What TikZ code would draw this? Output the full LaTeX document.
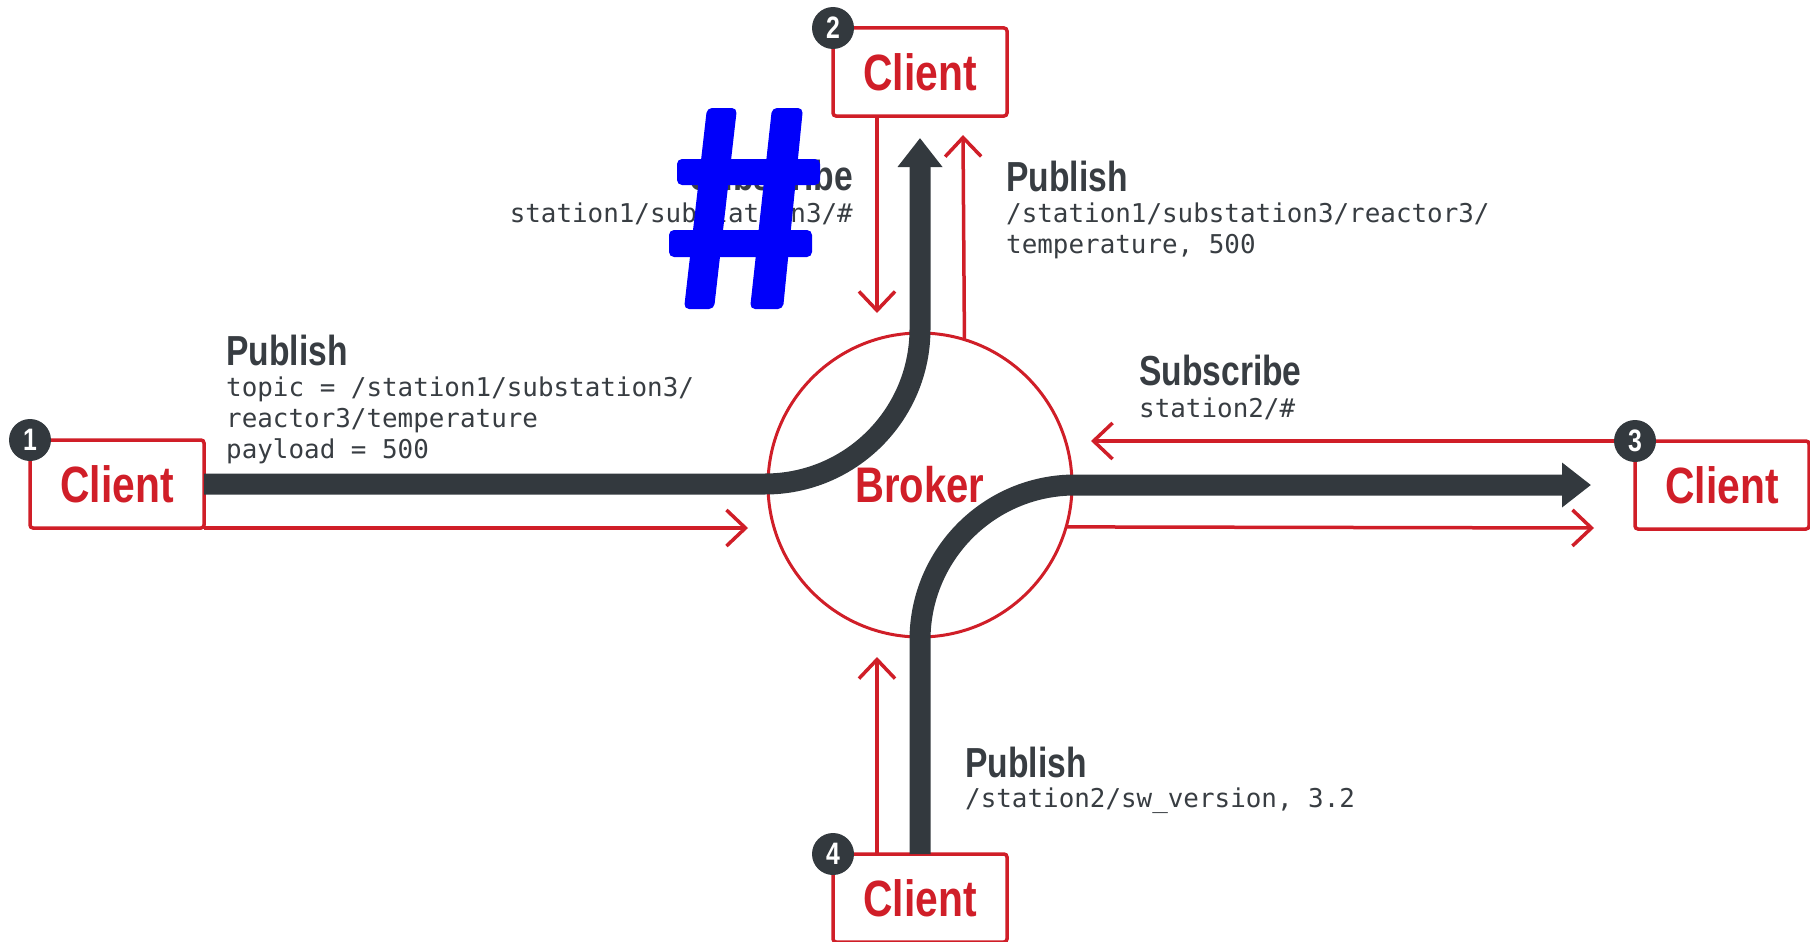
\documentclass[tikz,border=0pt]{standalone}
\usepackage{fontspec}
\setmainfont{Liberation Sans}
\newfontfamily\condf{Liberation Sans}[FakeStretch=0.8]
\newfontfamily\monof{DejaVu Sans Mono}
\usetikzlibrary{arrows.meta,calc}
\definecolor{mred}{RGB}{208,30,40}
\definecolor{mdark}{RGB}{51,57,62}
\definecolor{mtext}{RGB}{56,61,66}
\definecolor{mblue}{RGB}{0,0,250}
\begin{document}
\begin{tikzpicture}[x=1pt,y=-1pt,
  client/.style={draw=mred, line width=3.5pt, rounded corners=3pt, outer sep=0pt,
    minimum width=174pt, minimum height=88pt, inner sep=0pt,
    font=\condf\bfseries\fontsize{51}{51}\selectfont, text=mred},
  badge/.style={circle, fill=mdark, minimum size=42pt, inner sep=0pt, text=white,
    font=\condf\bfseries\fontsize{31}{31}\selectfont},
  redarrow/.style={draw=mred, line width=3.5pt, -{Straight Barb[length=19pt,width=36pt]}},
  flow/.style={draw=mdark, line width=21pt, rounded corners=155pt,
    -{Triangle[length=29pt,width=43pt]}},
  head/.style={font=\condf\bfseries\fontsize{42}{42}\selectfont, text=mtext, inner sep=0pt},
  mono/.style={font=\monof\fontsize{25.9}{31}\selectfont, text=mtext, inner sep=0pt},
]
\useasboundingbox (0,0) rectangle (1810,942);

% clients and broker
\node[client] (c1) at (117,484) {Client};
\node[client] (c2) at (920,72) {Client};
\node[client] (c3) at (1722,485) {Client};
\node[client] (c4) at (920,898) {Client};
\node[circle, draw=mred, line width=3pt, minimum size=304pt, inner sep=0pt, outer sep=0pt] (broker) at (920,485) {};

% free ends of connectors
\coordinate (t1) at (748,528);
\coordinate (t2a) at (877,313);
\coordinate (t2b) at (963,135);
\coordinate (t3a) at (1091,441);
\coordinate (t3b) at (1594,528);
\coordinate (t4) at (877,657);
\coordinate (h2) at (920,138);
\coordinate (h3) at (1591,485);

% thin red arrows
\draw[redarrow] (c1.south east) -- (t1);
\draw[redarrow] ($(c2.south)+(-43,0)$) -- (t2a);
\draw[redarrow] (broker.73.6) -- (t2b);
\draw[redarrow] (c3.north west) -- (t3a);
\draw[redarrow] (broker.-16.4) -- (t3b);
\draw[redarrow] ($(c4.north)+(-43,0)$) -- (t4);

% thick message flows
\draw[flow] (c1.east) -| (h2);
\draw[flow] (c4.north) |- (h3);

% broker label on top
\node[text=mred, font=\condf\bfseries\fontsize{50}{50}\selectfont] (blabel) at (broker.center) {Broker};

% badges
\node[badge] (b1) at (c1.north west) {1};
\node[badge] (b2) at (c2.north west) {2};
\node[badge] (b3) at (c3.north west) {3};
\node[badge] (b4) at (c4.north west) {4};

% labels
\node[head, anchor=base west] (p1) at (226,365) {Publish};
\node[mono, anchor=base west] (p1a) at (226,396) {topic = /station1/substation3/};
\node[mono, anchor=base west] (p1b) at (226,427) {reactor3/temperature};
\node[mono, anchor=base west] (p1c) at (226,458) {payload = 500};

\node[head, anchor=base east] (s2) at (853,190) {Subscribe};
\node[mono, anchor=base east] (s2a) at (853,222) {station1/substation3/\#};

\node[head, anchor=base west] (p2) at (1006,191) {Publish};
\node[mono, anchor=base west] (p2a) at (1006,222) {/station1/substation3/reactor3/};
\node[mono, anchor=base west] (p2b) at (1006,253) {temperature, 500};

\node[head, anchor=base west] (s3) at (1139,385) {Subscribe};
\node[mono, anchor=base west] (s3a) at (1139,417) {station2/\#};

\node[head, anchor=base west] (p4) at (965,777) {Publish};
\node[mono, anchor=base west] (p4a) at (965,807) {/station2/sw\_version, 3.2};

% big blue hash
\fill[mblue, rounded corners=5pt] (707,108) -- (737,108) -- (714,309) -- (684,309) -- cycle;
\fill[mblue, rounded corners=5pt] (772,108) -- (803,108) -- (783,309) -- (750,309) -- cycle;
\fill[mblue, rounded corners=5pt] (677,159) rectangle (820,185);
\fill[mblue, rounded corners=5pt] (669,230) rectangle (812,257);
\end{tikzpicture}
\end{document}
